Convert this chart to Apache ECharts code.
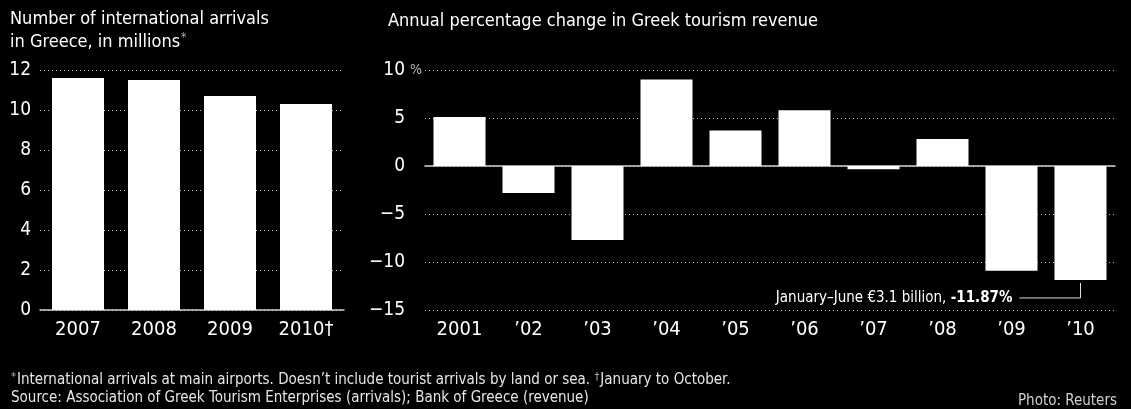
<!DOCTYPE html>
<html>
<head>
<meta charset="utf-8">
<script src="https://cdn.jsdelivr.net/npm/echarts@6/dist/echarts.min.js"></script>
<style>
html,body{margin:0;padding:0;background:#000;}
#chart{width:1131px;height:409px;}
</style>
</head>
<body>
<div id="chart"></div>
<script>
// ---- data ----
const arrivalYears = ['2007', '2008', '2009', '2010†'];
const arrivals = [11.6, 11.5, 10.7, 10.3];            // millions
const revenueYears = ['2001', '’02', '’03', '’04', '’05', '’06', '’07', '’08', '’09', '’10'];
const revenueChange = [5.1, -2.8, -7.7, 9.0, 3.7, 5.8, -0.35, 2.8, -10.9, -11.87]; // %
const leftTitle = ['Number of international arrivals', 'in Greece, in millions'];
const rightTitle = 'Annual percentage change in Greek tourism revenue';
const annotation = ['January–June €3.1 billion, ', '-11.87%'];
const footnote1 = 'International arrivals at main airports. Doesn’t include tourist arrivals by land or sea. ';
const footnote1b = 'January to October.';
const footnote2 = 'Source: Association of Greek Tourism Enterprises (arrivals); Bank of Greece (revenue)';
const credit = 'Photo: Reuters';

const FONT = "'Liberation Sans Narrow','DejaVu Sans Condensed','Roboto',sans-serif";
const gridDots = { color: '#c4c4c4', type: [1, 3], width: 1 };
const tickLabel = { color: '#fff', fontSize: 19, fontFamily: FONT };

const chart = echarts.init(document.getElementById('chart'), null, { renderer: 'canvas' });

chart.setOption({
  backgroundColor: '#000',
  animation: false,
  grid: [
    { left: 40, top: 70, width: 304, height: 240 },
    { left: 425, top: 70, width: 690, height: 240 }
  ],
  xAxis: [
    { gridIndex: 0, type: 'category', data: arrivalYears, position: 'bottom',
      axisLine: { lineStyle: { color: '#cfcfcf', width: 1.5 } },
      axisTick: { show: false },
      axisLabel: Object.assign({ margin: 10 }, tickLabel, { fontSize: 20 }) },
    { gridIndex: 1, type: 'category', data: revenueYears, position: 'bottom',
      axisLine: { show: false, onZero: false },
      axisTick: { show: false },
      axisLabel: Object.assign({ margin: 10 }, tickLabel, { fontSize: 20 }) },
    { gridIndex: 1, type: 'category', data: revenueYears, position: 'bottom',
      axisLine: { show: true, onZero: true, lineStyle: { color: '#cfcfcf', width: 1.5 } },
      axisTick: { show: false },
      axisLabel: { show: false } }
  ],
  yAxis: [
    { gridIndex: 0, type: 'value', min: 0, max: 12, interval: 2,
      axisLine: { show: false }, axisTick: { show: false },
      axisLabel: Object.assign({ margin: 9 }, tickLabel),
      splitLine: { lineStyle: gridDots } },
    { gridIndex: 1, type: 'value', min: -15, max: 10, interval: 5,
      axisLine: { show: false }, axisTick: { show: false },
      axisLabel: Object.assign({ margin: 20,
        formatter: v => (v < 0 ? '−' + Math.abs(v) : String(v)) }, tickLabel),
      splitLine: { lineStyle: gridDots } }
  ],
  series: [
    { type: 'bar', xAxisIndex: 0, yAxisIndex: 0, data: arrivals, barWidth: 52,
      itemStyle: { color: '#fff' }, z: 3 },
    { type: 'bar', xAxisIndex: 1, yAxisIndex: 1, data: revenueChange, barWidth: 52,
      itemStyle: { color: '#fff' }, z: 3 }
  ]
});

// ---- text and annotation placed from the chart's own scales ----
const lastIdx = revenueChange.length - 1;
const barEnd = chart.convertToPixel({ seriesIndex: 1 }, [lastIdx, revenueChange[lastIdx]]);
const tenPx = chart.convertToPixel({ seriesIndex: 1 }, [0, 10]);
const lineY = barEnd[1] + 18;

chart.setOption({
  graphic: [
    { type: 'text', left: 10, top: 10, style: {
        text: '{t|' + leftTitle[0] + '}\n{t|' + leftTitle[1] + '}{s|*}',
        rich: {
          t: { fill: '#fff', fontSize: 18, fontFamily: FONT, lineHeight: 23 },
          s: { fill: '#aaa', fontSize: 12, fontFamily: FONT, padding: [0, 0, 8, 1] }
        } } },
    { type: 'text', left: 388, top: 12, style: {
        text: rightTitle, fill: '#fff', fontSize: 18, fontFamily: FONT } },
    { type: 'text', x: 410, y: tenPx[1], style: {
        text: '%', fill: '#bbb', fontSize: 14, fontFamily: FONT, verticalAlign: 'middle' } },
    // annotation for 2010 bar
    { type: 'text', x: barEnd[0] - 68, y: lineY, style: {
        text: '{n|' + annotation[0] + '}{b|' + annotation[1] + '}',
        align: 'right', verticalAlign: 'middle',
        rich: {
          n: { fill: '#fff', fontSize: 15, fontFamily: FONT },
          b: { fill: '#fff', fontSize: 15, fontFamily: FONT, fontWeight: 'bold' }
        } } },
    { type: 'polyline', shape: { points: [[barEnd[0] - 61, lineY], [barEnd[0], lineY], [barEnd[0], barEnd[1] + 3]] },
      style: { stroke: '#ddd', lineWidth: 1, fill: null } },
    // footnotes
    { type: 'text', x: 11, y: 380, style: {
        text: '{s|*}{t|' + footnote1 + '}{s|†}{t|' + footnote1b + '}',
        verticalAlign: 'middle',
        rich: {
          t: { fill: '#e6e6e6', fontSize: 15, fontFamily: FONT },
          s: { fill: '#bbb', fontSize: 11, fontFamily: FONT, padding: [0, 1, 5, 0] }
        } } },
    { type: 'text', x: 11, y: 398, style: {
        text: footnote2, fill: '#e6e6e6', fontSize: 15, fontFamily: FONT, verticalAlign: 'middle' } },
    { type: 'text', x: 1117, y: 401, style: {
        text: credit, fill: '#d0d0d0', fontSize: 15, fontFamily: FONT, align: 'right', verticalAlign: 'middle' } }
  ]
});
</script>
</body>
</html>
